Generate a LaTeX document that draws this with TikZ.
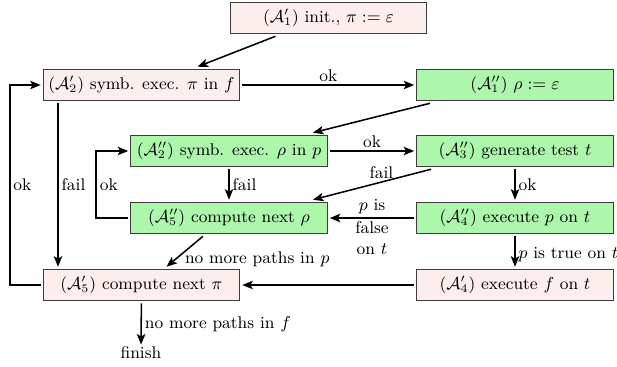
\documentclass[tikz,border=0pt]{standalone}
\usetikzlibrary{arrows.meta,calc}
\definecolor{pinkfill}{RGB}{253,238,238}
\definecolor{greenfill}{RGB}{172,247,172}
\definecolor{boxdraw}{RGB}{60,60,60}
\begin{document}
\begin{tikzpicture}[x=0.52pt,y=-0.52pt,
  box/.style={draw=boxdraw,line width=0.5pt,minimum width=102.4pt,minimum height=16.6pt,inner sep=1pt,outer sep=1.2pt,font=\fontsize{8.8}{10}\selectfont},
  pbox/.style={box,fill=pinkfill},
  gbox/.style={box,fill=greenfill},
  arr/.style={line width=0.8pt,-{Stealth[length=5.5pt,width=4.4pt,inset=1.3pt]}},
  lab/.style={font=\fontsize{8.8}{9.5}\selectfont,inner sep=1.5pt}]
\useasboundingbox (0,0) rectangle (617,366);
\node[pbox] (A1) at (328.5,18) {($\mathcal{A}'_1$) init., $\pi := \varepsilon$};
\node[pbox] (A2) at (141.5,85) {($\mathcal{A}'_2$) symb. exec. $\pi$ in $f$};
\node[gbox] (B1) at (515,85) {($\mathcal{A}''_1$) $\rho := \varepsilon$};
\node[gbox] (B2) at (229,151) {($\mathcal{A}''_2$) symb. exec. $\rho$ in $p$};
\node[gbox] (B3) at (515,151) {($\mathcal{A}''_3$) generate test $t$};
\node[gbox] (B5) at (229,218) {($\mathcal{A}''_5$) compute next $\rho$};
\node[gbox] (B4) at (515,218) {($\mathcal{A}''_4$) execute $p$ on $t$};
\node[pbox] (A5) at (141.5,285) {($\mathcal{A}'_5$) compute next $\pi$};
\node[pbox] (A4) at (515,285) {($\mathcal{A}'_4$) execute $f$ on $t$};
\node[lab,inner sep=1pt] (fin) at (141,353) {finish};

\draw[arr] ($(A1.south)+(-53,0)$) -- ($(A2.north)+(56,0)$);
\draw[arr] (A2) -- node[lab,above]{ok} (B1);
\draw[arr] ($(B1.south)+(-85,0)$) -- ($(B2.north)+(84,0)$);
\draw[arr] (B2) -- node[lab,above]{ok} (B3);
\draw[arr] ($(B3.south)+(-84,0)$) -- node[lab,above,pos=0.42]{fail} ($(B5.north)+(84,0)$);
\draw[arr] (B3) -- node[lab,right]{ok} (B4);
\draw[arr] (B4) -- node[lab,above]{$p$ is} node[lab,below,align=center]{false\\[1.5pt]on $t$} (B5);
\draw[arr] (B4) -- node[lab,right,pos=0.6]{$p$ is true on $t$} (A4);
\draw[arr] (A4) -- (A5);
\draw[arr] (B2) -- node[lab,right]{fail} (B5);
\draw[arr] (B5.west) -- ++(-32,0) |- node[lab,right,pos=0.25]{ok} (B2.west);
\draw[arr] ($(B5.south)+(-26,0)$) -- node[lab,right,pos=0.75,xshift=3pt]{no more paths in $p$} ($(A5.north)+(25,0)$);
\draw[arr] ($(A2.south)+(-83.5,0)$) -- node[lab,right]{fail} ($(A5.north)+(-83.5,0)$);
\draw[arr] (A5.west) -- ++(-31,0) |- node[lab,right,pos=0.25]{ok} (A2.west);
\draw[arr] (A5) -- node[lab,right]{no more paths in $f$} (fin);
\end{tikzpicture}
\end{document}
